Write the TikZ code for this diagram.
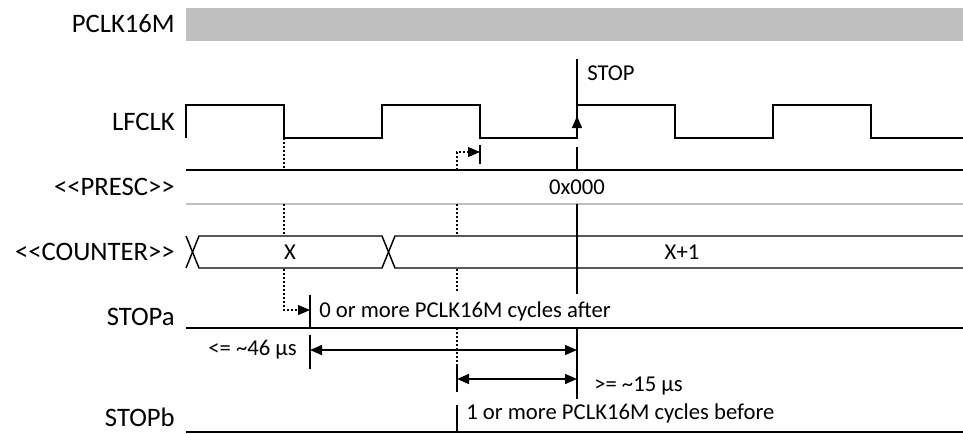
\documentclass[tikz,border=0pt]{standalone}
\usepackage{fontspec}
\setmainfont{Carlito}
\usetikzlibrary{arrows.meta}
\definecolor{clkgray}{HTML}{BFBFBF}
\tikzset{tri/.tip={Triangle[length=9pt,width=7.5pt]}}
\begin{document}
\begin{tikzpicture}[x=0.75pt,y=-0.75pt,
  sig/.style={line width=1.1pt},
  dots/.style={line width=0.8pt,dash pattern=on 1.5pt off 1.5pt},
  lbl/.style={anchor=east,inner sep=0pt,font=\fontsize{20}{24}\selectfont},
  note/.style={inner sep=0pt,font=\fontsize{17}{20}\selectfont}]
\useasboundingbox (0,0) rectangle (963,433);
\coordinate (stoptop) at (577,59);
\fill[clkgray] (186,8) rectangle (963,41);
\node[lbl] (pclk) at (175,24) {PCLK16M};
\node[lbl] (lfclk) at (175,122) {LFCLK};
\node[lbl] (presc) at (175,187) {<\kern0pt<PRESC>\kern0pt>};
\node[lbl] (counter) at (175,252) {<\kern0pt<COUNTER>\kern0pt>};
\node[lbl] (stopa) at (175,317) {STOPa};
\node[lbl,anchor=base east] (stopb) at (175,426) {STOPb};
\draw[sig] (186,138) -- (186,105) -- (284,105) -- (284,138) -- (382,138) -- (382,105) -- (480,105) -- (480,138)
  -- (577,138) -- (577,105) -- (675,105) -- (675,138) -- (773,138) -- (773,105) -- (871,105) -- (871,138) -- (963,138);
\draw[sig] (stoptop) -- (577,105);
\draw[sig,-tri] (577,138) -- (577,116);
\node[note,anchor=west] (stop) at (587,73) {STOP};
\draw[sig] (186,170) -- (963,170);
\draw[clkgray,line width=1pt] (186,204) -- (963,204);
\node[note] (presc0) at (577,187) {0x000};
\draw[sig] (186,236) -- (199,268) -- (382,268) -- (395,236) -- (963,236);
\draw[sig] (186,268) -- (199,236) -- (382,236) -- (395,268) -- (963,268);
\node[note] (cx) at (290,252) {X};
\node[note] (cx1) at (682,252) {X+1};
\draw[sig] (577,147) -- (577,170) (577,204) -- (577,294) (577,327) -- (577,399);
\draw[dots] (284,138) -- (284,170) (284,204) -- (284,236);
\draw[dots,-tri] (284,269) |- (310,310);
\draw[dots] (457,204) -- (457,236) (457,269) -- (457,293) (457,328) -- (457,365);
\draw[dots,-tri] (457,170) |- (480,152);
\draw[sig] (480,145) -- (480,164);
\draw[sig] (186,328) -- (963,328);
\draw[sig] (186,432) -- (963,432);
\draw[sig] (310,295) -- (310,328) (310,335) -- (310,369);
\node[note,anchor=west] (aftr) at (319,311) {0 or more PCLK16M cycles after};
\draw[sig,tri-tri] (310,350) -- (577,350);
\node[note,anchor=east] (t46) at (297,350) {<= \textasciitilde46 µs};
\draw[sig] (457,365) -- (457,392) (457,405) -- (457,432);
\draw[sig,tri-tri] (457,379) -- (577,379);
\node[note,anchor=west] (t15) at (594,386) {>= \textasciitilde15 µs};
\node[note,anchor=west] (bfre) at (466,413) {1 or more PCLK16M cycles before};
\end{tikzpicture}
\end{document}
